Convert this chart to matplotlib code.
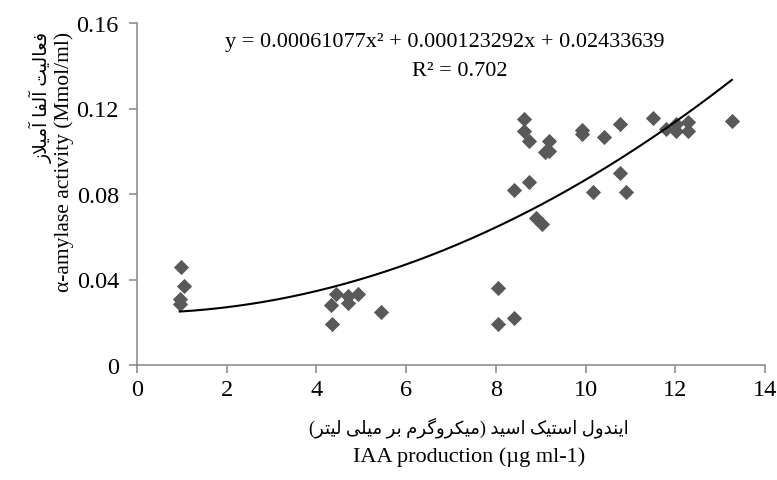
import numpy as np
import matplotlib
matplotlib.use('Agg')
import matplotlib.pyplot as plt

# IAA production (ug/ml) vs alpha-amylase activity
iaa = [0.974, 1.045, 0.954, 0.954,
       4.433, 4.695, 4.936, 4.323, 4.695, 5.439, 4.353,
       8.054, 8.054, 8.395, 8.395, 8.737, 8.898, 9.029,
       8.627, 8.627, 8.737, 9.190, 9.089, 9.180,
       9.914, 9.914, 10.417, 10.769, 10.769, 10.899, 10.155,
       11.513, 11.804, 12.026, 12.026, 12.287, 12.287, 13.262]
amylase = [0.0457, 0.0370, 0.0309, 0.0285,
           0.0332, 0.0324, 0.0332, 0.0282, 0.0289, 0.0249, 0.0192,
           0.0359, 0.0190, 0.0220, 0.0820, 0.0858, 0.0688, 0.0658,
           0.1151, 0.1096, 0.1050, 0.1050, 0.0995, 0.1003,
           0.1100, 0.1080, 0.1066, 0.1128, 0.0898, 0.0808, 0.0808,
           0.1156, 0.1104, 0.1128, 0.1096, 0.1136, 0.1096, 0.1143]

# trendline coefficients as printed on the chart
coef = [0.00061077, 0.000123292, 0.02433639]
r2 = 0.702

x_ticks = [0, 2, 4, 6, 8, 10, 12, 14]
y_ticks = [0, 0.04, 0.08, 0.12, 0.16]
y_tick_labels = ['0', '0.04', '0.08', '0.12', '0.16']

xlabel_fa = 'ایندول استیک اسید (میکروگرم بر میلی لیتر)'
xlabel_en = 'IAA production (µg ml-1)'
ylabel_fa = 'فعالیت آلفا آمیلاز'
ylabel_en = 'α-amylase activity (Mmol/ml)'


# matplotlib has no arabic shaping, so pick presentation forms by hand
# (isolated, final, initial, medial)
FORMS = {
    'ا': ('\uFE8D', '\uFE8E', None, None),
    'آ': ('\uFE81', '\uFE82', None, None),
    'ب': ('\uFE8F', '\uFE90', '\uFE91', '\uFE92'),
    'ت': ('\uFE95', '\uFE96', '\uFE97', '\uFE98'),
    'د': ('\uFEA9', '\uFEAA', None, None),
    'ر': ('\uFEAD', '\uFEAE', None, None),
    'ز': ('\uFEAF', '\uFEB0', None, None),
    'س': ('\uFEB1', '\uFEB2', '\uFEB3', '\uFEB4'),
    'ع': ('\uFEC9', '\uFECA', '\uFECB', '\uFECC'),
    'ف': ('\uFED1', '\uFED2', '\uFED3', '\uFED4'),
    'ک': ('\uFB8E', '\uFB8F', '\uFB90', '\uFB91'),
    'گ': ('\uFB92', '\uFB93', '\uFB94', '\uFB95'),
    'ل': ('\uFEDD', '\uFEDE', '\uFEDF', '\uFEE0'),
    'م': ('\uFEE1', '\uFEE2', '\uFEE3', '\uFEE4'),
    'ن': ('\uFEE5', '\uFEE6', '\uFEE7', '\uFEE8'),
    'و': ('\uFEED', '\uFEEE', None, None),
    'ی': ('\uFEEF', '\uFEF0', '\uFEF3', '\uFEF4'),
}
LAM_ALEF = {'ا': ('\uFEFB', '\uFEFC'), 'آ': ('\uFEF5', '\uFEF6')}


def dual(c):
    return c in FORMS and FORMS[c][2] is not None


def rtl(text):
    out = []
    i = 0
    while i < len(text):
        c = text[i]
        if c not in FORMS:
            out.append(c)
            i += 1
            continue
        prev_join = i > 0 and dual(text[i - 1])
        nxt = text[i + 1] if i + 1 < len(text) else ''
        if c == 'ل' and nxt in LAM_ALEF:
            out.append(LAM_ALEF[nxt][1] if prev_join else LAM_ALEF[nxt][0])
            i += 2
            continue
        next_join = dual(c) and nxt in FORMS
        iso, fin, ini, med = FORMS[c]
        if prev_join and next_join:
            out.append(med)
        elif prev_join:
            out.append(fin)
        elif next_join:
            out.append(ini)
        else:
            out.append(iso)
        i += 1
    s = ''.join(out)[::-1]
    return s.translate(str.maketrans('()', ')('))


plt.rcParams['font.family'] = ['Liberation Serif', 'DejaVu Sans']
axis_grey = '#868686'
W, H = 777, 481

fig = plt.figure(figsize=(7.77, 4.81), dpi=100)
ax = fig.add_axes([137 / W, 1 - 366 / H, 628 / W, 342 / H])

ax.scatter(iaa, amylase, marker='D', s=60, color='#595959', linewidths=0, zorder=3)

xs = np.linspace(min(iaa), max(iaa), 200)
ax.plot(xs, np.polyval(coef, xs), color='black', lw=1.5, zorder=4)

ax.set_xlim(0, 14)
ax.set_ylim(0, 0.16)
ax.set_xticks(x_ticks)
ax.set_yticks(y_ticks)
ax.set_yticklabels(y_tick_labels)
ax.tick_params(labelsize=17.5, colors=axis_grey, labelcolor='black',
               direction='out', length=5.5, width=1.1)
ax.tick_params(axis='x', pad=4.5)
ax.tick_params(axis='y', pad=7.5)
for side in ['top', 'right']:
    ax.spines[side].set_visible(False)
for side in ['left', 'bottom']:
    ax.spines[side].set_color(axis_grey)
    ax.spines[side].set_linewidth(1.1)

eq = 'y = %.8fx² + %.9fx + %.8f' % (coef[0], coef[1], coef[2])
fig.text(225 / W, 1 - 43 / H, eq, ha='left', va='center', fontsize=16)
fig.text(412 / W, 1 - 72 / H, 'R² = %.3f' % r2, ha='left', va='center', fontsize=16)

fig.text(41 / W, 1 - 32 / H, rtl(ylabel_fa), rotation=90, ha='center', va='top', fontsize=13.5)
fig.text(64 / W, 1 - 32 / H, ylabel_en, rotation=90, ha='center', va='top', fontsize=15.5)
fig.text(469 / W, 1 - 428 / H, rtl(xlabel_fa), ha='center', va='center', fontsize=13)
fig.text(353 / W, 1 - 457 / H, xlabel_en, ha='left', va='center', fontsize=16)

fig.savefig('out.png', dpi=100)
